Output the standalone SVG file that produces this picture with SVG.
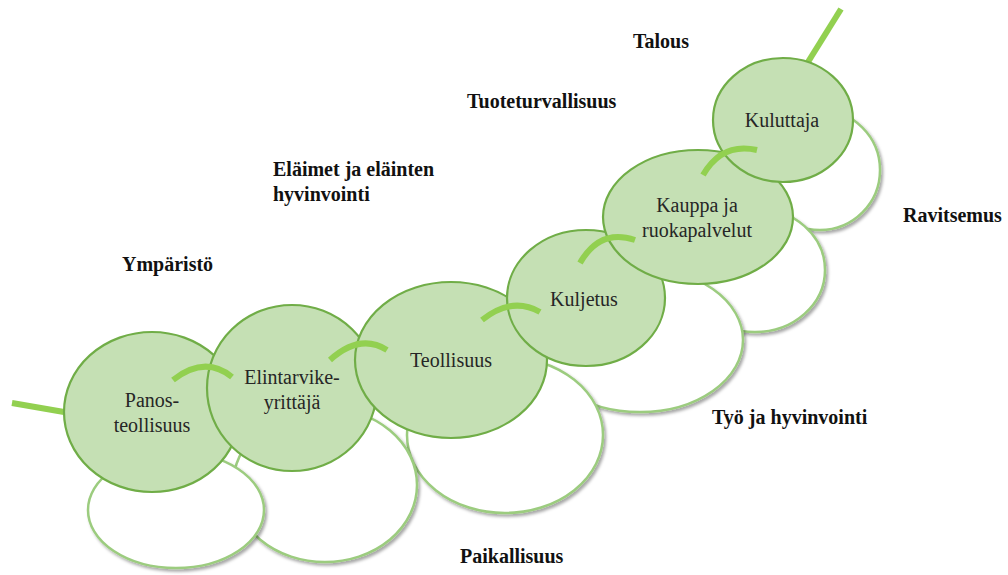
<svg xmlns="http://www.w3.org/2000/svg" width="1008" height="575" viewBox="0 0 1008 575">
  <defs>
    <filter id="shadow" x="-10%" y="-10%" width="125%" height="130%">
      <feDropShadow dx="2" dy="2.5" stdDeviation="1.5" flood-color="#000" flood-opacity="0.35"/>
    </filter>
  </defs>
  <style>
    .base { fill: #ffffff; stroke: #9ccc7f; stroke-width: 2.5; filter: url(#shadow); }
    .stage { fill: #c5e0b4; stroke: #70ad47; stroke-width: 2.2; }
    .name { font-size: 20px; fill: #262626; text-anchor: middle; }
    .theme { font-size: 20px; font-weight: bold; fill: #111; }
    .link { fill: none; stroke: #92d050; stroke-width: 6; stroke-linecap: butt; }
  </style>
  <rect width="1008" height="575" fill="#ffffff"/>

  <!-- white base ellipses, drawn right to left so the left ones lie on top -->
  <g id="bases">
    <ellipse class="base" cx="820" cy="170" rx="60" ry="60"/>
    <ellipse class="base" cx="755" cy="270" rx="70" ry="62"/>
    <ellipse class="base" cx="640" cy="340" rx="103" ry="72"/>
    <ellipse class="base" cx="505" cy="435" rx="98" ry="78"/>
    <ellipse class="base" cx="325" cy="485" rx="92" ry="77"/>
    <ellipse class="base" cx="176" cy="510" rx="88" ry="58"/>
  </g>

  <!-- stem lines at both ends of the chain -->
  <g id="connectors">
    <line class="link" x1="12" y1="403" x2="64" y2="412" stroke-width="5"/>
    <line class="link" x1="808" y1="62" x2="841" y2="9" stroke-width="5"/>
  </g>

  <g font-family="Liberation Serif, DejaVu Serif, serif">
    <g id="panos">
      <ellipse class="stage" cx="152" cy="412" rx="88" ry="80"/>
      <text class="name" x="152" y="407">Panos-</text>
      <text class="name" x="152" y="432">teollisuus</text>
    </g>
    <g id="elintarvike">
      <ellipse class="stage" cx="292" cy="388" rx="85" ry="83"/>
      <text class="name" x="292" y="384">Elintarvike-</text>
      <text class="name" x="292" y="409">yrittäjä</text>
    </g>
    <g id="teollisuus">
      <ellipse class="stage" cx="451" cy="360" rx="96" ry="78"/>
      <text class="name" x="451" y="367">Teollisuus</text>
    </g>
    <g id="kuljetus">
      <ellipse class="stage" cx="586" cy="298" rx="79" ry="68"/>
      <text class="name" x="584" y="306">Kuljetus</text>
    </g>
    <g id="kauppa">
      <ellipse class="stage" cx="698" cy="217" rx="95" ry="67"/>
      <text class="name" x="697" y="212">Kauppa ja</text>
      <text class="name" x="697" y="237">ruokapalvelut</text>
    </g>
    <g id="kuluttaja">
      <ellipse class="stage" cx="783" cy="120" rx="70" ry="62"/>
      <text class="name" x="782" y="127">Kuluttaja</text>
    </g>

    <!-- arcs joining neighbouring stages -->
    <g id="links">
      <path class="link" d="M173,380 Q205,355 232,377"/>
      <path class="link" d="M330,360 Q360,333 387,350"/>
      <path class="link" d="M482,320 Q512,296 540,312"/>
      <path class="link" d="M580,263 Q600,228 635,240"/>
      <path class="link" d="M703,175 Q722,142 757,150"/>
    </g>

    <!-- surrounding themes -->
    <g id="themes">
      <text class="theme" x="633" y="48">Talous</text>
      <text class="theme" x="467" y="108">Tuoteturvallisuus</text>
      <text class="theme" x="273" y="176">Eläimet ja eläinten</text>
      <text class="theme" x="273" y="201">hyvinvointi</text>
      <text class="theme" x="122" y="271">Ympäristö</text>
      <text class="theme" x="903" y="222">Ravitsemus</text>
      <text class="theme" x="712" y="424">Työ ja hyvinvointi</text>
      <text class="theme" x="460" y="563">Paikallisuus</text>
    </g>
  </g>
</svg>
